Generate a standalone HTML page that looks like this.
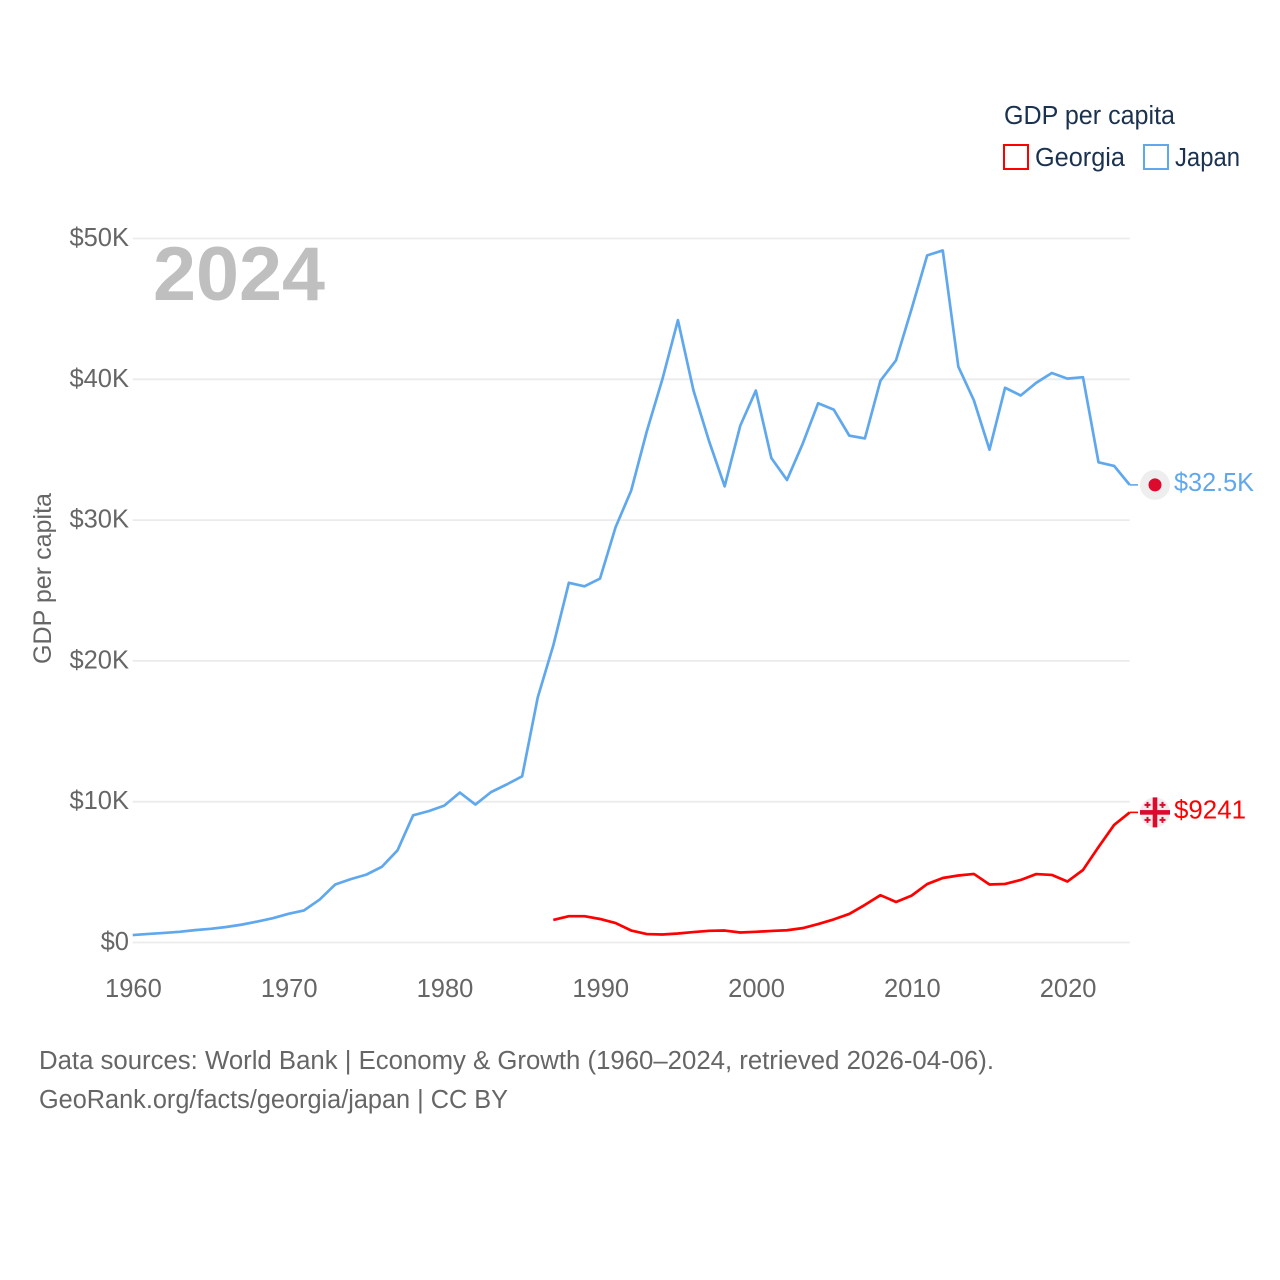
<!DOCTYPE html>
<html>
<head>
<meta charset="utf-8">
<title>GDP per capita: Georgia and Japan</title>
<style>
html,body{margin:0;padding:0;background:#fff;}
svg{display:block;}
text{font-family:"Liberation Sans",sans-serif;}
</style>
</head>
<body>
<svg id="chart" xmlns="http://www.w3.org/2000/svg" width="1280" height="1280" viewBox="0 0 1280 1280">
  <rect width="1280" height="1280" fill="#fff"/>
  <g id="grid"></g>
  <g id="yticks"></g>
  <g id="xticks"></g>
  <text x="153" y="300" font-size="76" font-weight="700" fill="#bfbfbf" textLength="172" lengthAdjust="spacingAndGlyphs">2024</text>
  <text transform="translate(51,664) rotate(-90)" font-size="25" fill="#666" textLength="171" lengthAdjust="spacingAndGlyphs">GDP per capita</text>
  <g id="series"></g>
  <g>
    <text x="1004" y="124" font-size="25.5" fill="#1a3250" textLength="171" lengthAdjust="spacingAndGlyphs">GDP per capita</text>
    <g>
      <rect x="1004" y="145" width="24" height="24" fill="none" stroke="#ff0000" stroke-width="2"/>
      <text x="1035" y="166" font-size="25.5" fill="#1a3250" textLength="90" lengthAdjust="spacingAndGlyphs">Georgia</text>
    </g>
    <g>
      <rect x="1144" y="145" width="24" height="24" fill="none" stroke="#60a8ee" stroke-width="2"/>
      <text x="1175" y="166" font-size="25.5" fill="#1a3250" textLength="65" lengthAdjust="spacingAndGlyphs">Japan</text>
    </g>
  </g>
  <g id="endmarks"></g>
  <text x="39" y="1069" font-size="25.5" fill="#666" textLength="955" lengthAdjust="spacingAndGlyphs">Data sources: World Bank | Economy &amp; Growth (1960–2024, retrieved 2026-04-06).</text>
  <text x="39" y="1108" font-size="25.5" fill="#666" textLength="469" lengthAdjust="spacingAndGlyphs">GeoRank.org/facts/georgia/japan | CC BY</text>
</svg>
<script>
// Values in thousands of US dollars
const japanYears = [1960,1961,1962,1963,1964,1965,1966,1967,1968,1969,1970,1971,1972,1973,1974,1975,1976,1977,1978,1979,1980,1981,1982,1983,1984,1985,1986,1987,1988,1989,1990,1991,1992,1993,1994,1995,1996,1997,1998,1999,2000,2001,2002,2003,2004,2005,2006,2007,2008,2009,2010,2011,2012,2013,2014,2015,2016,2017,2018,2019,2020,2021,2022,2023,2024];
const japanValues = [0.53,0.61,0.68,0.76,0.88,0.97,1.1,1.27,1.49,1.73,2.04,2.28,3.05,4.12,4.5,4.82,5.38,6.55,9.03,9.33,9.72,10.65,9.8,10.68,11.22,11.8,17.4,21.1,25.55,25.3,25.85,29.5,32.1,36.3,40.0,44.2,39.2,35.6,32.4,36.7,39.2,34.4,32.85,35.4,38.3,37.85,36.0,35.8,39.9,41.35,45.0,48.8,49.15,40.9,38.5,35.0,39.4,38.85,39.75,40.45,40.05,40.15,34.1,33.85,32.5];
const georgiaYears = [1987,1988,1989,1990,1991,1992,1993,1994,1995,1996,1997,1998,1999,2000,2001,2002,2003,2004,2005,2006,2007,2008,2009,2010,2011,2012,2013,2014,2015,2016,2017,2018,2019,2020,2021,2022,2023,2024];
const georgiaValues = [1.6,1.87,1.87,1.67,1.38,0.85,0.6,0.57,0.64,0.74,0.83,0.85,0.71,0.76,0.82,0.87,1.02,1.31,1.64,2.03,2.67,3.36,2.88,3.33,4.15,4.58,4.76,4.87,4.12,4.16,4.44,4.86,4.8,4.33,5.15,6.78,8.35,9.241];
const yTickValues = [0,10,20,30,40,50];
const yTickLabels = ['$0','$10K','$20K','$30K','$40K','$50K'];
const xTickValues = [1960,1970,1980,1990,2000,2010,2020];
const japanEndLabel = '$32.5K';
const georgiaEndLabel = '$9241';

const NS = 'http://www.w3.org/2000/svg';
const xLeft = 132.7, xRight = 1129.7, yZero = 942.5, yTop = 238.5;
function xScale(year){ return xLeft + (year - 1960) * (xRight - xLeft) / (2024 - 1960); }
function yScale(v){ return yZero - v * (yZero - yTop) / 50; }
function make(tag, attrs, parent){
  const el = document.createElementNS(NS, tag);
  for (const k in attrs) el.setAttribute(k, attrs[k]);
  parent.appendChild(el);
  return el;
}
const grid = document.getElementById('grid');
const yticks = document.getElementById('yticks');
const xticks = document.getElementById('xticks');
const series = document.getElementById('series');
const endmarks = document.getElementById('endmarks');

yTickValues.forEach(function(v, i){
  const line = make('line', {x1:xLeft, x2:xRight, y1:yScale(v), y2:yScale(v), stroke:'#ebebeb', 'stroke-width':1.8}, grid);
  
  
  const t = make('text', {x:129, y:yScale(v)+7.5, 'text-anchor':'end', 'font-size':25.5, fill:'#666'}, yticks);
  
  
  t.textContent = yTickLabels[i];
});
xTickValues.forEach(function(year){
  const t = make('text', {x:xScale(year) + 0.7, y:997, 'text-anchor':'middle', 'font-size':25.5, fill:'#666'}, xticks);
  
  
  t.textContent = String(year);
});
function pathFor(years, values){
  return years.map(function(y, i){ return (i ? 'L' : 'M') + xScale(y).toFixed(2) + ' ' + yScale(values[i]).toFixed(2); }).join(' ');
}
const japanLine = make('path', {d:pathFor(japanYears, japanValues), fill:'none', stroke:'#60a8ee', 'stroke-width':2.7, 'stroke-linejoin':'round'}, series);


const georgiaLine = make('path', {d:pathFor(georgiaYears, georgiaValues), fill:'none', stroke:'#ff0000', 'stroke-width':2.7, 'stroke-linejoin':'round'}, series);



// End markers follow the last value of each series
const jEndY = yScale(japanValues[japanValues.length - 1]);
const gEndY = yScale(georgiaValues[georgiaValues.length - 1]);
const jConn = make('line', {x1:xRight, x2:1138, y1:jEndY, y2:jEndY, stroke:'#60a8ee', 'stroke-width':1.6}, endmarks);


const gConn = make('line', {x1:xRight, x2:1138, y1:gEndY, y2:gEndY, stroke:'#ff0000', 'stroke-width':1.6}, endmarks);



const jBadge = make('g', {transform:'translate(1155,' + jEndY + ')'}, endmarks);


make('circle', {r:15, fill:'#eeeeee'}, jBadge);
make('circle', {r:6.5, fill:'#dc0a2d'}, jBadge);

const gBadge = make('g', {transform:'translate(1155,' + gEndY + ')'}, endmarks);


make('circle', {r:15, fill:'#eeeeee'}, gBadge);
make('rect', {x:-15, y:-2.3, width:30, height:4.6, fill:'#dc0a2d'}, gBadge);
make('rect', {x:-2.3, y:-15, width:4.6, height:30, fill:'#dc0a2d'}, gBadge);
[[-7.5,-7.5],[7.5,-7.5],[-7.5,7.5],[7.5,7.5]].forEach(function(c){
  make('rect', {x:c[0]-3, y:c[1]-1, width:6, height:2, fill:'#dc0a2d'}, gBadge);
  make('rect', {x:c[0]-1, y:c[1]-3, width:2, height:6, fill:'#dc0a2d'}, gBadge);
});

const jLabel = make('text', {x:1174, y:jEndY + 6, 'font-size':25.5, fill:'#60a8ee', textLength:80, lengthAdjust:'spacingAndGlyphs'}, endmarks);


jLabel.textContent = japanEndLabel;
const gLabel = make('text', {x:1174, y:gEndY + 6, 'font-size':25.5, fill:'#ff0000', textLength:72, lengthAdjust:'spacingAndGlyphs'}, endmarks);


gLabel.textContent = georgiaEndLabel;
</script>
</body>
</html>
